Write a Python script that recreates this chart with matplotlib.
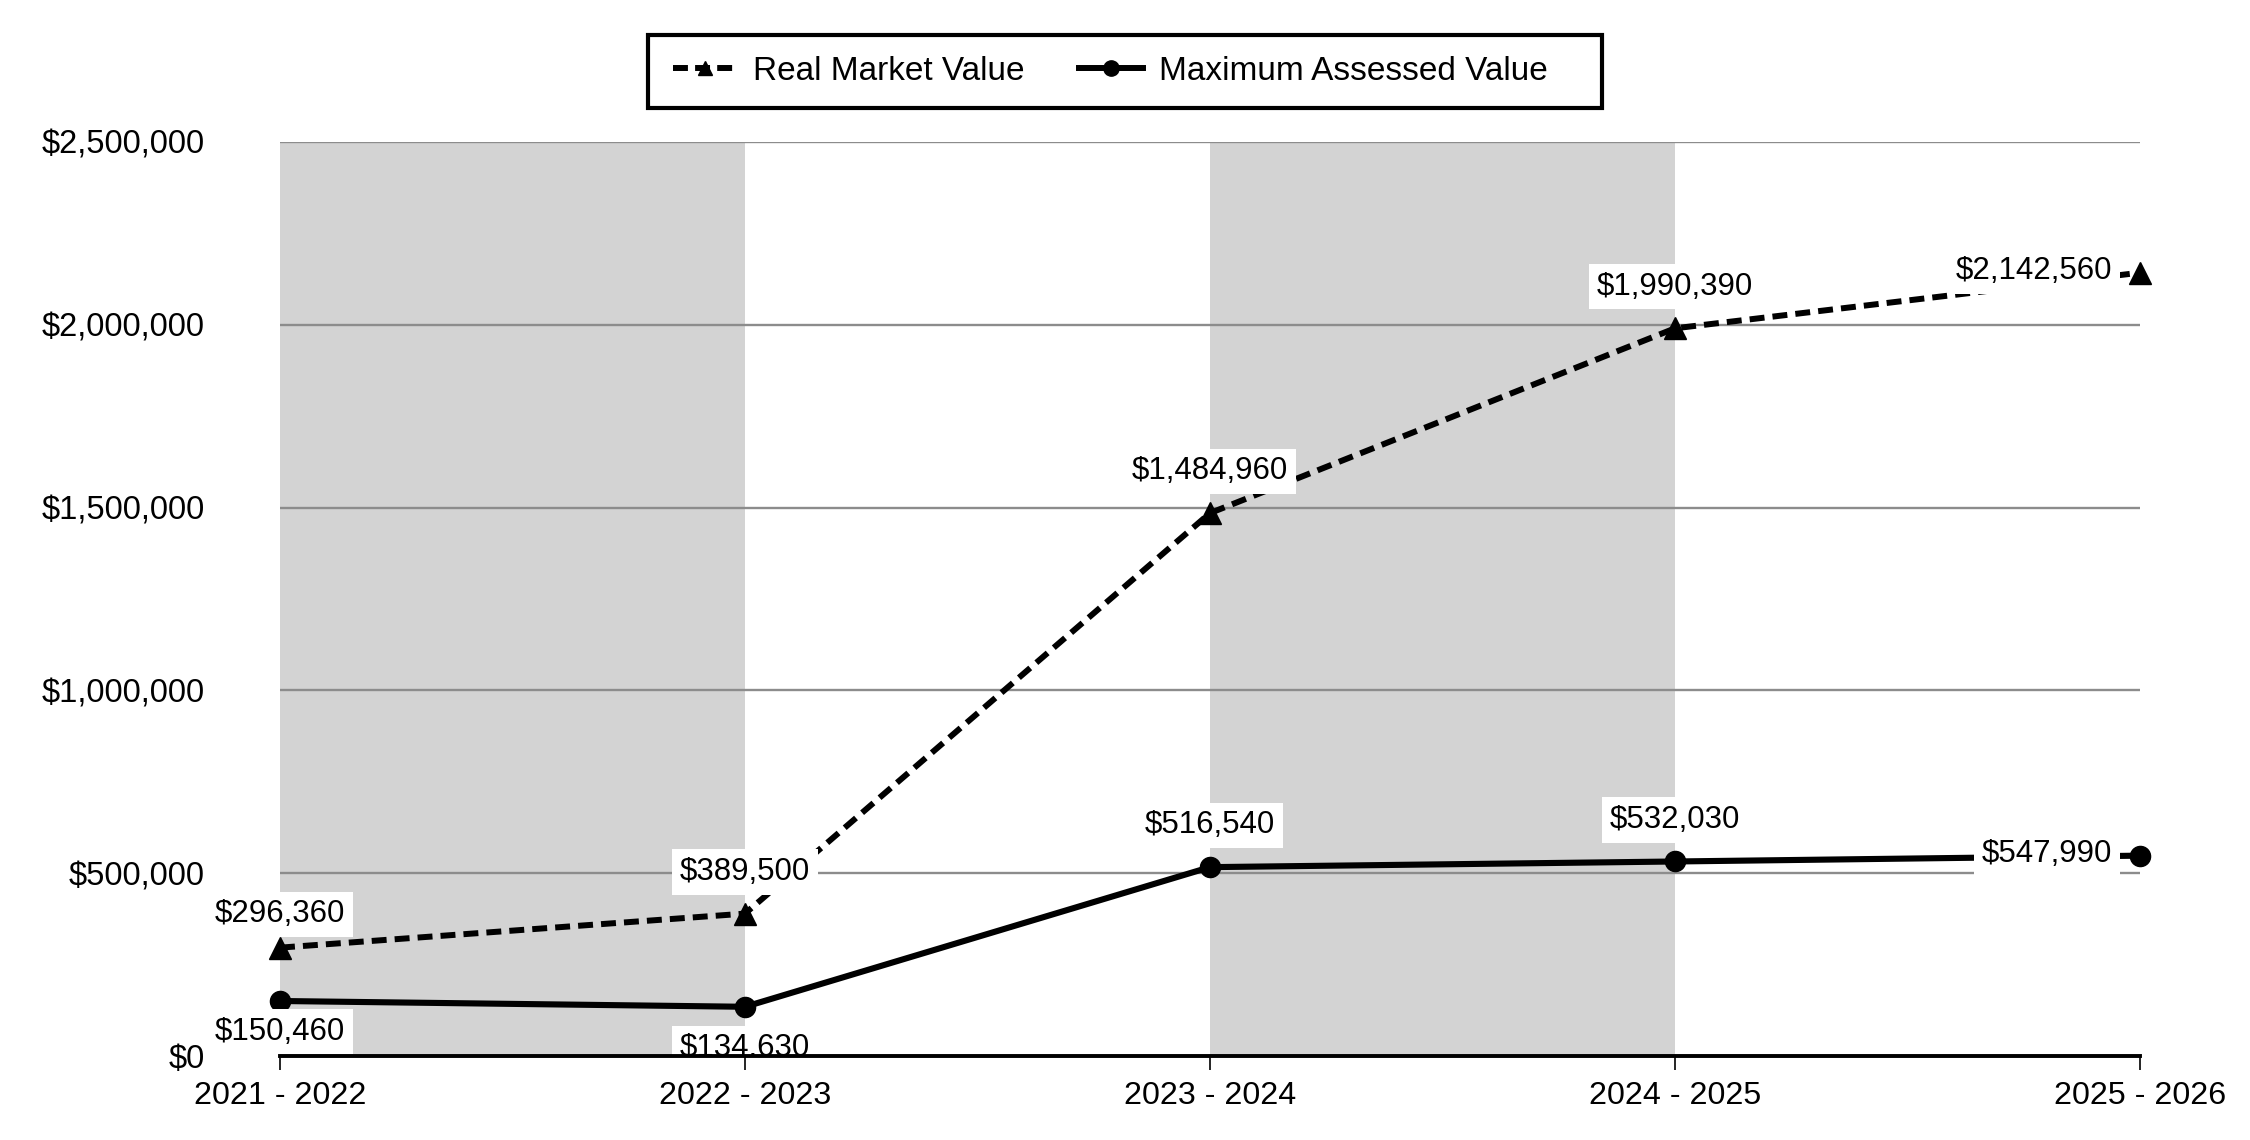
import matplotlib
matplotlib.use("Agg")
import matplotlib.pyplot as plt
from matplotlib.lines import Line2D
from matplotlib.patches import Rectangle

plt.rcParams['font.family'] = ['Liberation Sans', 'DejaVu Sans']

years = ["2021 - 2022", "2022 - 2023", "2023 - 2024", "2024 - 2025", "2025 - 2026"]
real_market = [296360, 389500, 1484960, 1990390, 2142560]
max_assessed = [150460, 134630, 516540, 532030, 547990]
y_ticks = [0, 500000, 1000000, 1500000, 2000000, 2500000]

# label placement styling (offsets in points)
rmv_offsets = [(0, 24), (0, 30), (0, 30), (0, 30), (-20, 1)]
mav_offsets = [(0, -22), (0, -30), (0, 30), (0, 30), (-20, 1)]

W, H = 2250, 1140
fig = plt.figure(figsize=(W / 100, H / 100), dpi=100)
ax_bottom = 1 - 1056 / H
ax = fig.add_axes([280 / W, ax_bottom, (2140 - 280) / W, (1056 - 142) / H])

x = list(range(len(years)))
for i in range(0, len(years) - 1, 2):
    ax.axvspan(x[i], x[i + 1], color='#d3d3d3', zorder=0, lw=0)

ax.set_xlim(x[0], x[-1])
ax.set_ylim(y_ticks[0], y_ticks[-1])
ax.set_yticks(y_ticks)
ax.set_yticklabels(["$0" if v == 0 else "${:,.0f}".format(v) for v in y_ticks])
ax.set_xticks(x)
ax.set_xticklabels(years)
ax.grid(axis='y', color='#8c8c8c', lw=1.7, zorder=1)
ax.set_axisbelow(True)

for s in ['left', 'right', 'top']:
    ax.spines[s].set_visible(False)
ax.spines['bottom'].set_linewidth(2.8)
ax.spines['bottom'].set_zorder(6)
ax.tick_params(axis='y', length=0, pad=54, labelsize=23.5)
ax.tick_params(axis='x', length=10, width=1.2, pad=8, labelsize=23.2, direction='out')

ax.plot(x, real_market, color='black', lw=4.3, ls=(0, (2.5, 1.35)), marker='^',
        markersize=16, zorder=4, clip_on=False, label='Real Market Value')
ax.plot(x, max_assessed, color='black', lw=4.4, ls='-', marker='o',
        markersize=14.5, zorder=4, clip_on=False, label='Maximum Assessed Value')

clip_rect = Rectangle((0, ax_bottom), 1, 1 - ax_bottom, transform=fig.transFigure,
                      visible=False)
fig.patches.append(clip_rect)

bbox = dict(boxstyle='square,pad=0.25', fc='white', ec='none')
for series, offsets in ((real_market, rmv_offsets), (max_assessed, mav_offsets)):
    for i, v in enumerate(series):
        dx, dy = offsets[i]
        t = ax.annotate("${:,.0f}".format(v), (x[i], v), xytext=(dx, dy),
                        textcoords='offset points', ha='right' if dx < 0 else 'center',
                        va='center', fontsize=22.5, bbox=bbox, zorder=5,
                        annotation_clip=False)
        t.set_clip_on(True)
        t.set_clip_path(clip_rect)

handles = [Line2D([], [], color='black', lw=4.3, ls=(0, (2.5, 1.2)), marker='^', markersize=10),
           Line2D([], [], color='black', lw=4.3, ls='-', marker='o', markersize=11)]
leg = fig.legend(handles, ['Real Market Value', 'Maximum Assessed Value'],
                 loc='center left', bbox_to_anchor=(673 / W, 1 - 71.5 / H), ncol=2,
                 fontsize=24, frameon=False, handlelength=1.9, columnspacing=1.64,
                 handletextpad=0.5, borderpad=0, borderaxespad=0)

fig.patches.append(Rectangle((648 / W, 1 - 108 / H), (1602 - 648) / W, 73 / H,
                             transform=fig.transFigure, fill=False, ec='black', lw=3))

fig.savefig('out.png', dpi=100)
